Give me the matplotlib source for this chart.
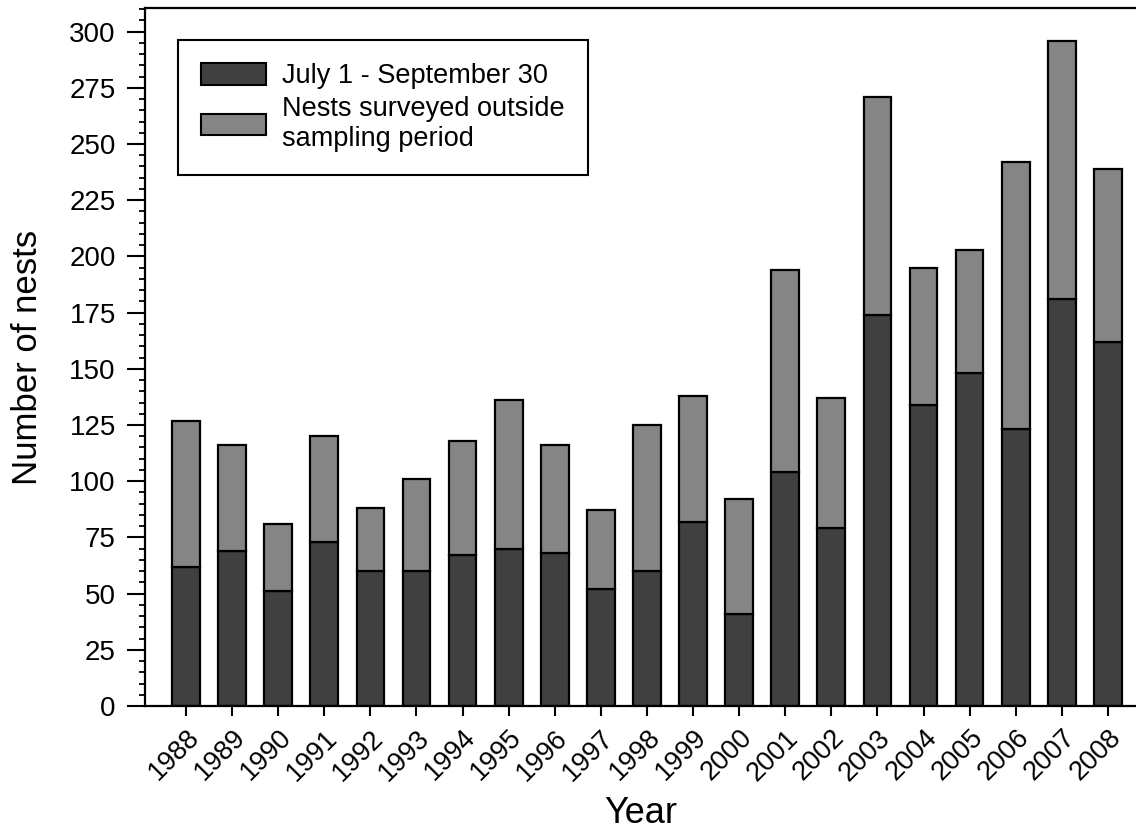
import matplotlib.pyplot as plt
import numpy as np
from matplotlib.ticker import MultipleLocator

plt.rcParams["font.family"] = ["Liberation Sans", "DejaVu Sans"]

years = [str(y) for y in range(1988, 2009)]
# nests found July 1 - September 30
in_period = [62, 69, 51, 73, 60, 60, 67, 70, 68, 52, 60,
             82, 41, 104, 79, 174, 134, 148, 123, 181, 162]
# total nests surveyed (bar tops)
totals = [127, 116, 81, 120, 88, 101, 118, 136, 116, 87, 125,
          138, 92, 194, 137, 271, 195, 203, 242, 296, 239]
outside = [t - p for t, p in zip(totals, in_period)]

DARK = "#404040"
LIGHT = "#858585"

fig = plt.figure(figsize=(11.36, 8.31), dpi=100)
ax = fig.add_axes([145 / 1136, 125 / 831, 991 / 1136, 698 / 831])

x = np.arange(len(years))
ax.bar(x, in_period, width=0.6, color=DARK, edgecolor="black", linewidth=1.6,
       label="July 1 - September 30", zorder=2)
ax.bar(x, outside, width=0.6, bottom=in_period, color=LIGHT, edgecolor="black",
       linewidth=1.6, label="Nests surveyed outside\nsampling period", zorder=2)

ax.set_xlim(-0.89, 20.61)
ax.set_ylim(0, 310.5)
ax.spines["right"].set_visible(False)
for s in ("left", "bottom", "top"):
    ax.spines[s].set_linewidth(1.6)

ax.yaxis.set_major_locator(MultipleLocator(25))
ax.yaxis.set_minor_locator(MultipleLocator(5))
ax.set_yticks(np.arange(0, 301, 25))
ax.tick_params(axis="y", which="major", direction="out", length=13, width=1.5,
               labelsize=20, pad=8)
ax.tick_params(axis="y", which="minor", direction="out", length=4.5, width=1.3)
ax.set_xticks(x)
ax.set_xticklabels(years, rotation=45, ha="right", rotation_mode="anchor")
ax.tick_params(axis="x", direction="out", length=7.5, width=1.5, labelsize=19.5, pad=6)
ax.tick_params(top=False, right=False)

ax.set_xlabel("Year", fontsize=26, labelpad=7)
ax.set_ylabel("Number of nests", fontsize=25, labelpad=18)

leg = ax.legend(loc="upper left", bbox_to_anchor=(0.0333, 0.954), fontsize=19.5,
                frameon=True, fancybox=False, edgecolor="black", framealpha=1,
                handlelength=2.4, handleheight=0.85, borderpad=0.85,
                labelspacing=0.25, handletextpad=0.6, borderaxespad=0)
leg.get_frame().set_linewidth(1.5)
for h in leg.legend_handles:
    h.set_linewidth(1.5)

fig.savefig("out.png", dpi=100)
